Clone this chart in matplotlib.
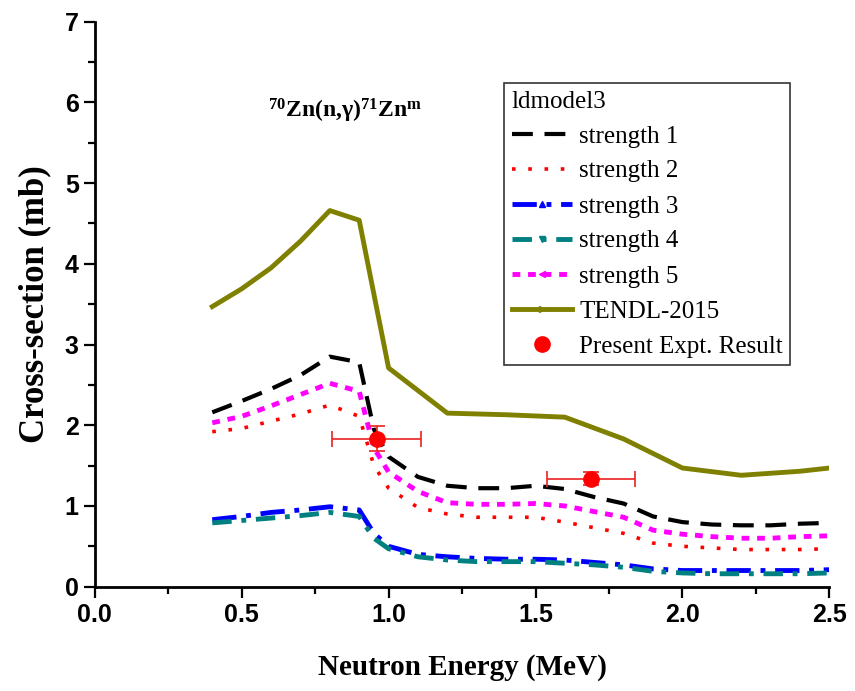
import numpy as np
import matplotlib

matplotlib.use("Agg")
import matplotlib.pyplot as plt
from matplotlib.lines import Line2D

plt.rcParams["mathtext.fontset"] = "custom"
plt.rcParams["mathtext.rm"] = "Liberation Serif:bold"
plt.rcParams["mathtext.it"] = "Liberation Serif:bold"
plt.rcParams["mathtext.bf"] = "Liberation Serif:bold"

# talys calculations (ldmodel3), energies in MeV
energy = [0.4, 0.5, 0.6, 0.7, 0.8, 0.9, 0.95, 1.0, 1.1, 1.2, 1.3, 1.4, 1.5,
          1.6, 1.7, 1.8, 1.9, 2.0, 2.1, 2.2, 2.3, 2.4, 2.5]
strength1 = [2.16, 2.30, 2.45, 2.62, 2.85, 2.78, 1.95, 1.61, 1.36, 1.25, 1.22,
             1.22, 1.25, 1.21, 1.11, 1.03, 0.87, 0.80, 0.77, 0.76, 0.76, 0.78, 0.79]
strength2 = [1.92, 1.96, 2.05, 2.14, 2.25, 2.11, 1.50, 1.22, 0.98, 0.90, 0.86,
             0.86, 0.86, 0.80, 0.73, 0.66, 0.54, 0.50, 0.48, 0.46, 0.46, 0.46, 0.47]
strength3 = [0.83, 0.87, 0.92, 0.95, 0.99, 0.95, 0.66, 0.50, 0.40, 0.37, 0.35,
             0.34, 0.34, 0.33, 0.30, 0.27, 0.22, 0.20, 0.20, 0.20, 0.20, 0.20, 0.21]
strength4 = [0.79, 0.82, 0.85, 0.88, 0.92, 0.87, 0.60, 0.47, 0.37, 0.33, 0.31,
             0.31, 0.31, 0.29, 0.27, 0.24, 0.19, 0.17, 0.16, 0.16, 0.16, 0.16, 0.17]
strength5 = [2.03, 2.11, 2.24, 2.38, 2.52, 2.42, 1.72, 1.42, 1.18, 1.04, 1.02,
             1.02, 1.03, 1.00, 0.93, 0.86, 0.70, 0.65, 0.62, 0.60, 0.60, 0.62, 0.63]

tendl_energy = [0.4, 0.5, 0.6, 0.7, 0.8, 0.9, 1.0, 1.2, 1.4, 1.6, 1.8, 2.0, 2.2, 2.4, 2.5]
tendl = [3.47, 3.69, 3.95, 4.28, 4.66, 4.54, 2.71, 2.15, 2.13, 2.10, 1.83, 1.47,
         1.38, 1.43, 1.47]

expt_energy = [0.959, 1.688]
expt_xs = [1.83, 1.335]
expt_energy_err = [0.15, 0.15]
expt_xs_err = [0.155, 0.08]

fig = plt.figure(figsize=(8.55, 6.91), dpi=100)
ax = fig.add_axes([0.1108, 0.151, 0.8592, 0.8176])

ax.plot(energy, strength1, color="black", lw=3, ls=(0, (5, 2.8)))
ax.plot(energy, strength2, color="red", lw=2.6, ls=(0, (1, 3.5)))
ax.plot(energy, strength3, color="blue", lw=3.5, ls=(0, (5, 2, 1, 2)))
ax.plot(energy, strength4, color="#008080", lw=3.5, ls=(0, (4, 2, 1, 2)))
ax.plot(energy, strength5, color="magenta", lw=3.5, ls=(0, (1.6, 1.6)))
ax.plot(tendl_energy, tendl, color="#808000", lw=3.5)
ax.errorbar(expt_energy, expt_xs, xerr=expt_energy_err, yerr=expt_xs_err,
            fmt="o", color="red", ms=11, ecolor="#ee2020", elinewidth=1.2,
            capsize=6, capthick=1.2)

ax.set_xlim(0, 2.5)
ax.set_ylim(0, 7)
ax.set_xticks(np.arange(0, 2.51, 0.5))
ax.set_xticks(np.arange(0, 2.51, 0.25), minor=True)
ax.set_yticks(range(0, 8))
ax.set_yticks(np.arange(0, 7.01, 0.5), minor=True)
ax.set_xticklabels(["0.0", "0.5", "1.0", "1.5", "2.0", "2.5"])
for lab in ax.get_xticklabels() + ax.get_yticklabels():
    lab.set_family("Liberation Sans")
    lab.set_weight("bold")
    lab.set_fontsize(18)
ax.tick_params(which="major", direction="out", length=8, width=1.6)
ax.tick_params(which="minor", direction="out", length=5, width=1.6)
for s in ["top", "right"]:
    ax.spines[s].set_visible(False)
for s in ["left", "bottom"]:
    ax.spines[s].set_linewidth(2)

ax.set_xlabel("Neutron Energy (MeV)", family="Liberation Serif",
              weight="bold", fontsize=21, labelpad=20)
ax.set_ylabel("Cross-section (mb)", family="Liberation Serif",
              weight="bold", fontsize=25, labelpad=10)

ax.text(0.59, 5.81, r"$^{70}$Zn(n,γ)$^{71}$Zn$^{m}$", family="Liberation Serif",
        weight="bold", fontsize=17)

handles = [
    Line2D([], [], color="black", lw=3, ls=(0, (5, 2.8))),
    Line2D([], [], color="red", lw=2.6, ls=(0, (1, 3.5))),
    Line2D([], [], color="blue", lw=3.5, ls=(0, (5, 2, 1, 2)), marker="^", ms=4),
    Line2D([], [], color="#008080", lw=3.5, ls=(0, (4, 2, 1, 2)), marker="v", ms=4),
    Line2D([], [], color="magenta", lw=3.5, ls=(0, (1.6, 1.6)), marker="<", ms=4),
    Line2D([], [], color="#808000", lw=3.5, marker=">", ms=4),
    Line2D([], [], color="red", ls="none", marker="o", ms=11),
]
labels = ["strength 1", "strength 2", "strength 3", "strength 4", "strength 5",
          "TENDL-2015", "Present Expt. Result"]
leg = fig.legend(handles, labels, title="ldmodel3", loc="upper left",
                 bbox_to_anchor=(504 / 855, 1 - 83 / 691),
                 prop={"family": "Liberation Serif", "size": 18},
                 title_fontproperties={"family": "Liberation Serif", "size": 18},
                 frameon=True, fancybox=False, edgecolor="black",
                 handlelength=2.4, handletextpad=0.3, labelspacing=0.5,
                 borderpad=0.3, borderaxespad=0)
leg.get_frame().set_linewidth(1.2)
leg._legend_box.align = "left"

plt.savefig("out.png", dpi=100)
